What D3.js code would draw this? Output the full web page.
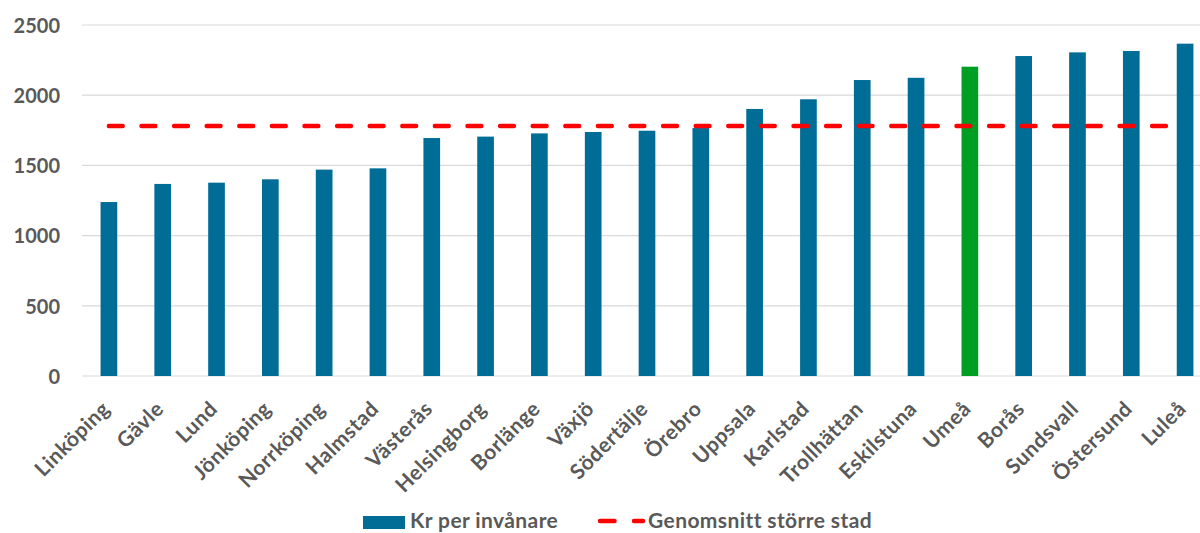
<!DOCTYPE html>
<html lang="sv">
<head>
  <meta charset="UTF-8" />
  <title>Kr per invånare</title>
  <script src="https://d3js.org/d3.v7.min.js"></script>
  <style>
    body { margin: 0; background: #fff; font-family: Lato, 'Open Sans', sans-serif; }
    svg text { font-weight: bold; fill: #595959; }
  </style>
</head>
<body>
  <svg id="chart" width="1200" height="533"></svg>
  <script>
    const cities = ["Linköping", "Gävle", "Lund", "Jönköping", "Norrköping", "Halmstad", "Västerås",
      "Helsingborg", "Borlänge", "Växjö", "Södertälje", "Örebro", "Uppsala", "Karlstad", "Trollhättan",
      "Eskilstuna", "Umeå", "Borås", "Sundsvall", "Östersund", "Luleå"];
    const krPerInvanare = [1239, 1368, 1377, 1401, 1470, 1479, 1695, 1705, 1728, 1738, 1747, 1766, 1902,
      1971, 2108, 2124, 2203, 2279, 2305, 2315, 2367];
    const genomsnitt = 1781;
    const highlight = "Umeå";
    const yTicks = [0, 500, 1000, 1500, 2000, 2500];

    const svg = d3.select("#chart");
    const plotLeft = 82, plotRight = 1212, plotTop = 25, plotBottom = 376;

    const x = d3.scaleBand().domain(cities).range([plotLeft, plotRight]).paddingInner(0.69).paddingOuter(0.345);
    const y = d3.scaleLinear().domain([0, 2500]).range([plotBottom, plotTop]);

    // gridlines
    svg.append("g")
      .selectAll("line")
      .data(yTicks)
      .join("line")
      .attr("x1", plotLeft).attr("x2", 1200)
      .attr("y1", d => y(d)).attr("y2", d => y(d))
      .attr("stroke", "#d9d9d9").attr("stroke-width", 1.2);

    // y axis labels
    const yAxis = svg.append("g")
      .attr("transform", `translate(${plotLeft - 22},0)`)
      .call(d3.axisLeft(y).tickValues(yTicks).tickFormat(d3.format("d")).tickSize(0).tickPadding(0));
    yAxis.select(".domain").remove();
    yAxis.selectAll("text").attr("font-size", 20).attr("font-family", "Lato, sans-serif").attr("dy", "0.36em");

    // bars
    svg.append("g")
      .selectAll("rect")
      .data(cities)
      .join("rect")
      .attr("x", d => x(d))
      .attr("width", x.bandwidth())
      .attr("y", (d, i) => y(krPerInvanare[i]))
      .attr("height", (d, i) => plotBottom - y(krPerInvanare[i]))
      .attr("fill", d => d === highlight ? "#009e22" : "#006d96");

    // average dashed line (center of first to center of last category)
    const lineX1 = x(cities[0]) + x.bandwidth() / 2;
    const lineX2 = x(cities[cities.length - 1]) + x.bandwidth() / 2 - 2;
    svg.append("line")
      .attr("x1", lineX1).attr("x2", lineX2)
      .attr("y1", y(genomsnitt)).attr("y2", y(genomsnitt))
      .attr("stroke", "#ff0000").attr("stroke-width", 4.5)
      .attr("stroke-linecap", "round")
      .attr("stroke-dasharray", "13.8 18.8");

    // x labels
    const xAxis = svg.append("g")
      .attr("transform", `translate(0,${plotBottom})`)
      .call(d3.axisBottom(x).tickSize(0).tickPadding(0));
    xAxis.select(".domain").remove();
    xAxis.selectAll("text")
      .attr("font-size", 21).attr("font-family", "Lato, sans-serif")
      .attr("letter-spacing", 0.5)
      .attr("text-anchor", "end")
      .attr("transform", "translate(-3,29) rotate(-45)")
      .attr("dy", "0.35em").attr("dx", "0");

    // legend
    const legend = svg.append("g");
    legend.append("rect").attr("x", 363).attr("y", 516).attr("width", 42).attr("height", 13).attr("fill", "#006d96");
    legend.append("text").attr("x", 410).attr("y", 528).attr("font-size", 21).attr("letter-spacing", 0.4)
      .text("Kr per invånare");
    legend.append("line").attr("x1", 600).attr("x2", 643).attr("y1", 521).attr("y2", 521)
      .attr("stroke", "#ff0000").attr("stroke-width", 4.5).attr("stroke-linecap", "round")
      .attr("stroke-dasharray", "14.5 19.5");
    legend.append("text").attr("x", 648).attr("y", 528).attr("font-size", 21).attr("letter-spacing", 0.4)
      .text("Genomsnitt större stad");
  </script>
</body>
</html>
